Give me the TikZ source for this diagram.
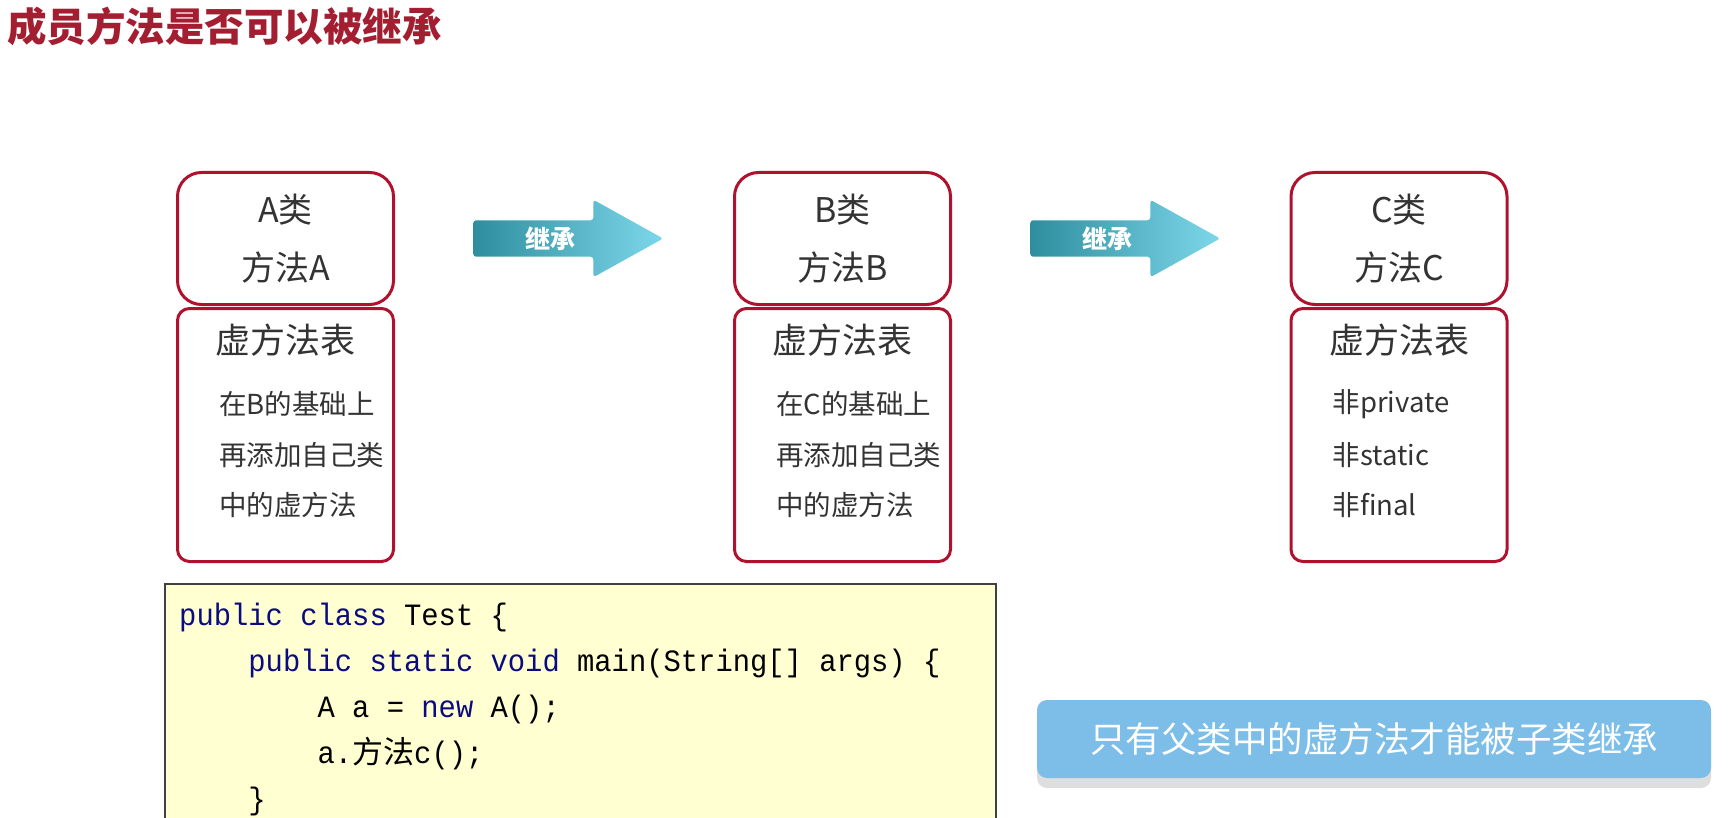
\documentclass[tikz,border=0pt]{standalone}
\usepackage{fontspec}
\setmainfont{Noto Sans CJK SC}
\newfontfamily\cjk{Noto Sans CJK SC}
\setmonofont{Liberation Mono}[FakeStretch=0.93]
\usetikzlibrary{positioning,calc,shapes.arrows,shadows}

\definecolor{titlered}{HTML}{A31E30}
\definecolor{boxred}{HTML}{B0122E}
\definecolor{boxtext}{HTML}{333333}
\definecolor{arrdark}{HTML}{2E8E9E}
\definecolor{arrlight}{HTML}{7DD7EA}
\definecolor{codebg}{HTML}{FFFFD2}
\definecolor{kwblue}{HTML}{0B0B80}
\definecolor{tipblue}{HTML}{7DBEE9}

\newcommand{\kw}[1]{\textcolor{kwblue}{#1}}
\newcommand{\fs}[2]{\fontsize{#1}{#2}\selectfont}
\newcommand{\ind}{\phantom{xxxx}}

\tikzset{
  clsbox/.style={draw=boxred, line width=3pt, rounded corners=24pt, minimum width=216pt,
    minimum height=132pt, align=center, text=boxtext, font=\fs{34}{58}},
  vtbox/.style={draw=boxred, line width=3pt, rounded corners=12pt, minimum width=216pt,
    minimum height=253pt},
  vthead/.style={inner sep=0pt, text=boxtext, font=\fs{35}{40}},
  vtline/.style={anchor=west, inner sep=0pt, text=boxtext, font=\fs{27.5}{30}},
  inharr/.style={single arrow, draw=none, minimum height=190pt, single arrow head extend=20.5pt,
    single arrow tip angle=58, inner xsep=0pt, inner ysep=18pt,
    left color=arrdark, right color=arrlight, rounded corners=3pt},
  inhtext/.style={inner sep=0pt, text=white, font=\bfseries\fs{25}{30}},
  codeline/.style={anchor=base west, inner sep=0pt, font=\ttfamily\fs{31}{46}},
}

\begin{document}
\begin{tikzpicture}[x=1pt, y=-1pt]
\useasboundingbox (0,0) rectangle (1736,818);
\clip (0,0) rectangle (1736,818);

% title
\node[anchor=west, inner sep=0pt, text=titlered, font=\bfseries\fs{39.5}{44}] (title) at (7,26.5) {成员方法是否可以被继承};

% classes with their virtual method tables
\foreach \cx/\nm/\la/\lb/\lc in {285.5/A/在B的基础上/再添加自己类/中的虚方法,
    842.5/B/在C的基础上/再添加自己类/中的虚方法, 1399/C/非private/非static/非final} {
  \node[clsbox] (cls\nm) at (\cx,238.5) {{\nm}类\\方法\nm};
  \node[vtbox, below=1pt of cls\nm] (vt\nm) {};
  \node[vthead] (vth\nm) at ($(vt\nm.north)+(0,33)$) {虚方法表};
  \node[vtline] (vla\nm) at ($(vt\nm.north west)+(43,97)$) {\la};
  \node[vtline] (vlb\nm) at ($(vt\nm.north west)+(43,148)$) {\lb};
  \node[vtline] (vlc\nm) at ($(vt\nm.north west)+(43,198)$) {\lc};
}

% inheritance arrows
\node[inharr, right=78pt of clsA] (arrAB) {};
\node[inharr, right=78pt of clsB] (arrBC) {};
\node[inhtext] (inhAB) at ($(arrAB.west)+(77,0)$) {继承};
\node[inhtext] (inhBC) at ($(arrBC.west)+(77,0)$) {继承};

% code sample
\node[draw=black!75, line width=2pt, fill=codebg, anchor=north west, minimum width=831pt,
  minimum height=260pt, inner sep=0pt] (code) at (164,583) {};
\node[codeline] (cl1) at ($(code.north west)+(15,42)$) {\kw{public} \kw{class} Test \{};
\node[codeline] (cl2) at ($(code.north west)+(15,88)$) {\ind\kw{public} \kw{static} \kw{void} main(String[] args) \{};
\node[codeline] (cl3) at ($(code.north west)+(15,134)$) {\ind\ind A a = \kw{new} A();};
\node[codeline] (cl4) at ($(code.north west)+(15,180)$) {\ind\ind a.{\cjk 方法}c();};
\node[codeline] (cl5) at ($(code.north west)+(15,226)$) {\ind\}};

% hint
\node[fill=tipblue, rounded corners=10pt, minimum width=674pt, minimum height=78pt, text=white,
  font=\fs{35.5}{40}, drop shadow={shadow xshift=0pt, shadow yshift=-10pt, fill=black!13, opacity=1}]
  (hint) at (1374,739) {只有父类中的虚方法才能被子类继承};
\end{tikzpicture}
\end{document}
